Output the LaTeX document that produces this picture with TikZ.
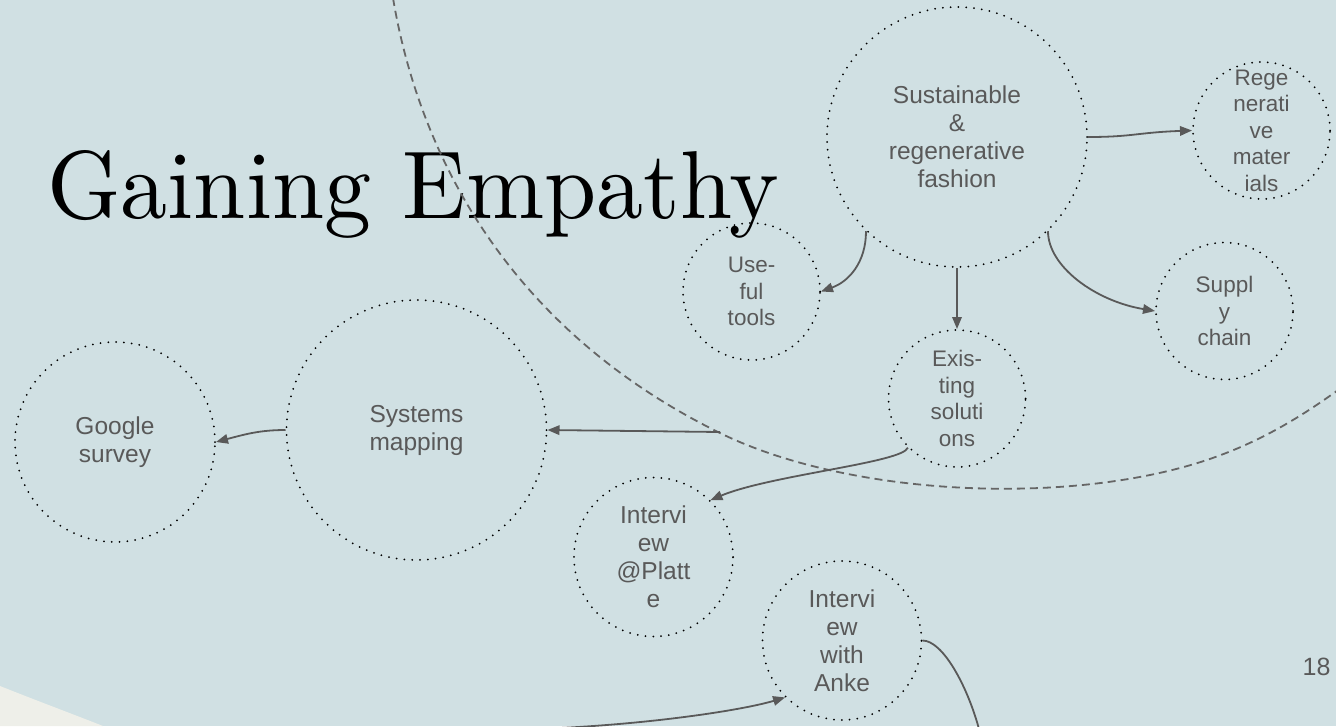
\documentclass[tikz,border=0pt]{standalone}
\usepackage{fontspec}
\setsansfont{Liberation Sans}
\usepackage{tikz}
\usetikzlibrary{arrows.meta,positioning}

\definecolor{slide}{HTML}{D0E0E3}
\definecolor{sand}{HTML}{EEEFE9}
\definecolor{ink}{HTML}{595959}
\definecolor{rim}{HTML}{666666}

\begin{document}
\begin{tikzpicture}[
  x=1pt, y=-1pt,
  font=\sffamily\fontsize{24.5}{28}\selectfont,
  bubble/.style={circle, draw=black, line width=2pt, dash pattern=on 0pt off 7.8pt,
                 line cap=round, inner sep=0pt, text=ink, align=center},
  small/.style={bubble, minimum size=137pt, font=\sffamily\fontsize{22.5}{26.5}\selectfont},
  arr/.style={-{Triangle[length=12pt,width=9.5pt]}, draw=ink, line width=1.8pt}
]
  \useasboundingbox (0,0) rectangle (1336,726);
  \fill[slide] (0,0) rectangle (1336,726);
  \clip (0,0) rectangle (1336,726);
  \fill[sand] (0,686) .. controls (35,700) and (70,713) .. (103,726) -- (0,726) -- cycle;

  \node[anchor=base west, inner sep=0pt, font=\rmfamily] (title) at (47,218)
    {\resizebox{732pt}{68pt}{Gaining Empathy}};
  \draw[rim, line width=1.8pt, dash pattern=on 8pt off 5pt]
    (393,-2) .. controls (415,130) and (490,320) .. (720,433)
    .. controls (840,492) and (1040,505) .. (1180,468)
    .. controls (1250,449.5) and (1300,418) .. (1345,385);

  \node[bubble, minimum size=260pt] (fashion) at (957,137) {Sustainable\\ \&\\ regenerative\\ fashion};
  \node[small, inner sep=-4pt] (regen) at (1261.5,130.5) {Rege\\ nerati\\ ve\\ mater\\ ials};
  \node[small] (tools) at (751.5,291.5) {Use-\\ ful\\ tools};
  \node[small] (existing) at (957,398.5) {Exis-\\ ting\\ soluti\\ ons};
  \node[small] (supply) at (1224.5,311) {Suppl\\ y\\ chain};
  \node[bubble, minimum size=260pt] (systems) at (416.5,430) {Systems\\ mapping};
  \node[bubble, minimum size=200pt] (google) at (115,442) {Google\\ survey};
  \node[bubble, minimum size=159pt] (platte) at (653.5,557) {Intervi\\ ew\\ @Platt\\ e};
  \node[bubble, minimum size=159pt] (anke) at (842,640.5) {Intervi\\ ew\\ with\\ Anke};
  \node[anchor=base east, text=ink, font=\sffamily\fontsize{25}{30}\selectfont] (page) at (1334,675) {18};

  \coordinate (mapin) at (720,432);
  \coordinate (ankein) at (560,728);
  \coordinate (ankeout) at (982,740);

  \draw[arr] (fashion.east) .. controls +(45,0) and +(-55,2) .. (regen.west);
  \draw[arr] (fashion.226) .. controls +(0,31) and +(28,-10) .. (tools.east);
  \draw[arr] (fashion.south) -- (existing.north);
  \draw[arr] (fashion.-46) .. controls +(0,35) and +(-60,-10) .. (supply.west);
  \draw[arr] (existing.225) .. controls +(-5,15) and +(60,-25) .. (platte.45);
  \draw[arr] (mapin) -- (systems.east);
  \draw[arr] (systems.west) .. controls +(-25,0) and +(30,-8) .. (google.east);
  \draw[arr] (ankein) .. controls +(100,-5) and +(-40,12) .. (anke.225);
  \draw[arr] (anke.east) .. controls +(20,0) and +(-15,-55) .. (ankeout);
\end{tikzpicture}
\end{document}
